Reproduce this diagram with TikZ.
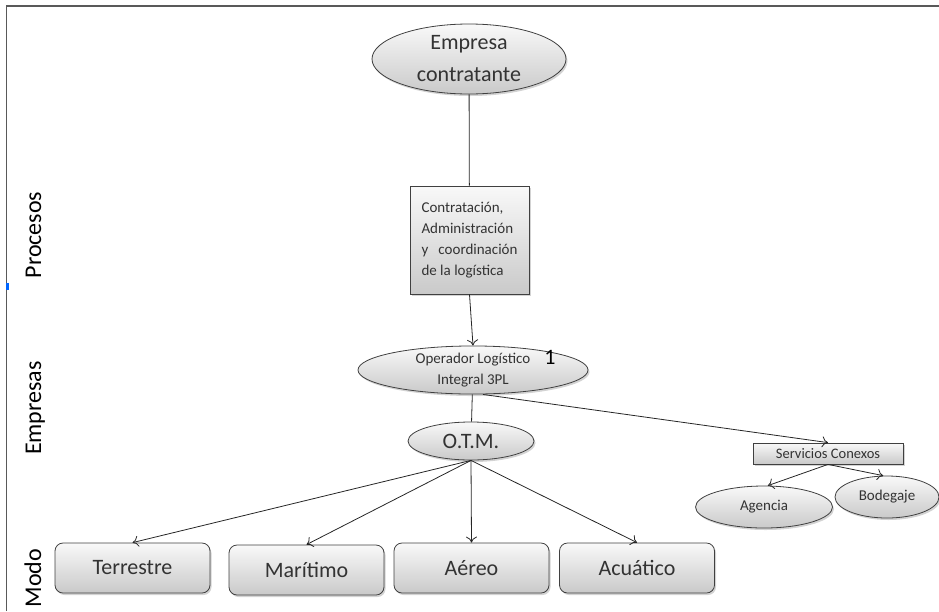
\documentclass[tikz,border=0pt]{standalone}
\usepackage{fontspec}
\setmainfont{Carlito}
\usetikzlibrary{shapes.geometric,shadows,arrows.meta}
\tikzset{
    graybox/.style={draw=black!75, line width=0.8pt, top color=gray!5, bottom color=gray!42,
        drop shadow={shadow xshift=1.5pt, shadow yshift=-2pt, opacity=0.35}, text=black!80},
    grayoval/.style={graybox, ellipse, inner sep=0pt},
    modebox/.style={graybox, rounded corners=8pt, minimum width=155pt, minimum height=50pt, font=\fontsize{22}{26}\selectfont},
    sidelabel/.style={rotate=90, anchor=base, font=\fontsize{24}{28}\selectfont},
    link/.style={draw=black!85, line width=0.8pt},
    arrowlink/.style={link, -{To[length=6pt,width=11pt]}}
}
\begin{document}
\begin{tikzpicture}[x=1pt, y=-1pt]
        \useasboundingbox (0,0) rectangle (939,611);
        % Frame
        \draw[black!65, line width=1.5pt] (6.5,611) -- (6.5,6) -- (939,6);
        \fill[blue!60!cyan] (6,283) rectangle (8.5,290);

        % Side labels
        \node[sidelabel] (procesos) at (41,235) {Procesos};
        \node[sidelabel] (empresas) at (41,408) {Empresas};
        \node[sidelabel] (modo) at (41,578) {Modo};

        % Nodes
        \node[grayoval, minimum width=194pt, minimum height=70pt, align=center,
            font=\fontsize{22}{32}\selectfont] (empresa) at (469,59) {Empresa\\contratante};
        \node[graybox, minimum width=119pt, minimum height=108pt, align=left,
            font=\fontsize{15}{21}\selectfont] (contrat) at (469.5,240)
            {Contratación,\\Administración\\y~~ coordinación\\de la logística};
        \node[grayoval, minimum width=230pt, minimum height=44pt, align=center,
            font=\fontsize{15}{21}\selectfont] (operador) at (473,370) {Operador Logístico\\Integral 3PL};
        \node[font=\fontsize{22}{26}\selectfont] (uno) at (550,357) {1};
        \node[grayoval, minimum width=126pt, minimum height=38pt,
            font=\fontsize{22}{26}\selectfont] (otm) at (471,441) {O.T.M.};
        \node[graybox, minimum width=150pt, minimum height=21pt, inner sep=0pt,
            font=\fontsize{14.5}{18}\selectfont] (servicios) at (828,453.5) {Servicios Conexos};
        \node[grayoval, minimum width=137pt, minimum height=42pt,
            font=\fontsize{15}{18}\selectfont] (agencia) at (764,507) {Agencia};
        \node[grayoval, minimum width=104pt, minimum height=42pt,
            font=\fontsize{15}{18}\selectfont] (bodegaje) at (887,497) {Bodegaje};

        \node[modebox] (terrestre) at (132.5,568) {Terrestre};
        \node[modebox] (maritimo) at (306.5,570) {Marítimo};
        \node[modebox] (aereo) at (471.5,568) {Aéreo};
        \node[modebox] (acuatico) at (637,568) {Acuático};

        % Edges
        \draw[link] (empresa) -- (contrat);
        \draw[arrowlink] (contrat.south) -- (operador.north);
        \draw[link] (operador) -- (otm);
        \draw[arrowlink] ([xshift=10pt]operador.south) -- (servicios.north);
        \draw[arrowlink] (servicios.south) -- (agencia.80);
        \draw[arrowlink] (servicios.south) -- (bodegaje.100);
        \draw[arrowlink] (otm.south) -- (terrestre.north);
        \draw[arrowlink] (otm.south) -- (maritimo.north);
        \draw[arrowlink] (otm.south) -- (aereo.north);
        \draw[arrowlink] (otm.south) -- (acuatico.north);
\end{tikzpicture}
\end{document}
